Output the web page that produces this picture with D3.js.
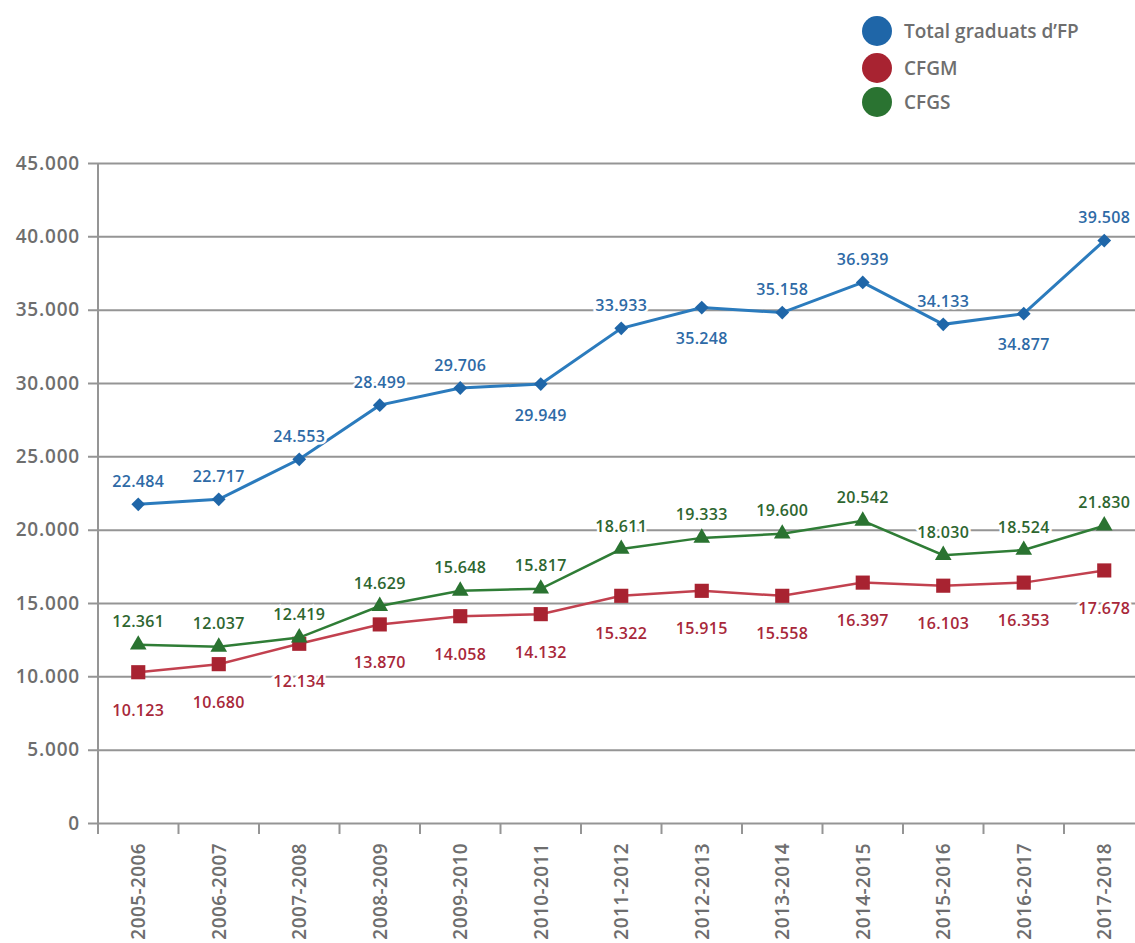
<!DOCTYPE html>
<html>
<head>
<meta charset="utf-8">
<script src="https://cdn.jsdelivr.net/npm/d3@7"></script>
<style>
  body { margin: 0; background: #fff; }
  svg text { font-family: 'Open Sans', sans-serif; font-weight: 600; }
</style>
</head>
<body>
<div id="chart"></div>
<script>
const categories = ['2005-2006', '2006-2007', '2007-2008', '2008-2009', '2009-2010', '2010-2011',
  '2011-2012', '2012-2013', '2013-2014', '2014-2015', '2015-2016', '2016-2017', '2017-2018']

const yTicks = [0, 5000, 10000, 15000, 20000, 25000, 30000, 35000, 40000, 45000]
const yTickLabels = ['0', '5.000', '10.000', '15.000', '20.000', '25.000', '30.000', '35.000', '40.000', '45.000']

// plotted positions
const totalValues = [21730, 22070, 24800, 28490, 29660, 29930, 33730, 35140, 34800, 36860, 34000, 34730, 39710]
const totalLabels = ['22.484', '22.717', '24.553', '28.499', '29.706', '29.949', '33.933', '35.248', '35.158', '36.939', '34.133', '34.877', '39.508']
const totalSide = ['up', 'up', 'up', 'up', 'up', 'down', 'up', 'down', 'up', 'up', 'up', 'down', 'up']

const cfgmValues = [10280, 10830, 12220, 13540, 14100, 14240, 15490, 15830, 15490, 16390, 16180, 16390, 17220]
const cfgmLabels = ['10.123', '10.680', '12.134', '13.870', '14.058', '14.132', '15.322', '15.915', '15.558', '16.397', '16.103', '16.353', '17.678']
const cfgmSide = categories.map(() => 'down')

const cfgsValues = [12150, 12010, 12640, 14790, 15830, 15970, 18680, 19440, 19720, 20600, 18260, 18610, 20270]
const cfgsLabels = ['12.361', '12.037', '12.419', '14.629', '15.648', '15.817', '18.611', '19.333', '19.600', '20.542', '18.030', '18.524', '21.830']
const cfgsSide = categories.map(() => 'up')

const legendNames = ['Total graduats d’FP', 'CFGM', 'CFGS']

const width = 1135
const height = 943
const axisColor = '#959595'
const textColor = '#6e6e6e'

const svg = d3.select('#chart')
  .append('svg')
    .attr('width', width)
    .attr('height', height)

const x = d3.scaleBand()
  .domain(categories)
  .range([98, 98 + 13 * 80.5])
  .padding(0)

const y = d3.scaleLinear()
  .domain([0, 45000])
  .range([823, 163])

const cx = d => x(d) + x.bandwidth() / 2

// gridlines + y labels
const yAxis = svg.append('g')
  .attr('transform', 'translate(98, 0)')
  .call(d3.axisLeft(y).tickValues(yTicks).tickSize(-(width - 98)).tickPadding(18)
    .tickFormat((d, i) => yTickLabels[i]))
yAxis.select('.domain').remove()
yAxis.selectAll('.tick line')
  .attr('x1', -10)
  .attr('stroke', axisColor)
  .attr('stroke-width', 2)
yAxis.selectAll('.tick text')
  .attr('fill', textColor)
  .attr('font-size', 19)
  .attr('letter-spacing', 0.8)
  .attr('font-family', "'Open Sans', sans-serif")

// left axis line
svg.append('line')
  .attr('x1', 98).attr('x2', 98)
  .attr('y1', 163).attr('y2', 834)
  .attr('stroke', axisColor)
  .attr('stroke-width', 2)

// x axis: ticks between categories
const bounds = categories.map(c => x(c)).slice(1)
svg.selectAll('.xtick')
  .data(bounds)
  .enter()
  .append('line')
    .attr('x1', d => d).attr('x2', d => d)
    .attr('y1', 823).attr('y2', 834)
    .attr('stroke', axisColor)
    .attr('stroke-width', 2)

svg.selectAll('.xlabel')
  .data(categories)
  .enter()
  .append('text')
    .attr('transform', d => `translate(${cx(d) + 7}, 843) rotate(-90)`)
    .attr('text-anchor', 'end')
    .attr('font-size', 19)
    .attr('letter-spacing', 0.4)
    .attr('fill', textColor)
    .text(d => d)

const series = [
  { values: totalValues, labels: totalLabels, side: totalSide, line: '#2b7bbd', mark: '#1f66a8', text: '#2e6aa6',
    symbol: d3.symbol().type(d3.symbolSquare).size(95), rotate: 45, lw: 3, up: -23, down: 31 },
  { values: cfgmValues, labels: cfgmLabels, side: cfgmSide, line: '#c2414f', mark: '#a82331', text: '#a8283a',
    symbol: d3.symbol().type(d3.symbolSquare).size(200), rotate: 0, lw: 2.5, up: -23, down: 38 },
  { values: cfgsValues, labels: cfgsLabels, side: cfgsSide, line: '#2f7d36', mark: '#2a7331', text: '#2e6630',
    symbol: d3.symbol().type(d3.symbolTriangle).size(120), rotate: 0, lw: 2.5, up: -23, down: 31 }
]

const line = d3.line()
  .x((d, i) => cx(categories[i]))
  .y(d => y(d))

series.forEach(s => {
  svg.append('path')
    .attr('d', line(s.values))
    .attr('fill', 'none')
    .attr('stroke', s.line)
    .attr('stroke-width', s.lw)

  svg.append('g')
    .selectAll('path')
    .data(s.values)
    .enter()
    .append('path')
      .attr('d', s.symbol)
      .attr('transform', (d, i) => `translate(${cx(categories[i])}, ${y(d)}) rotate(${s.rotate})`)
      .attr('fill', s.mark)
})

// data labels on top
series.forEach(s => {
  svg.append('g')
    .selectAll('text')
    .data(s.values)
    .enter()
    .append('text')
      .attr('x', (d, i) => cx(categories[i]))
      .attr('y', (d, i) => y(d) + (s.side[i] === 'up' ? s.up : s.down))
      .attr('dy', '0.35em')
      .attr('text-anchor', 'middle')
      .attr('font-size', 16)
      .attr('letter-spacing', 0.3)
      .attr('fill', s.text)
      .attr('stroke', '#fff')
      .attr('stroke-width', 5)
      .attr('paint-order', 'stroke')
      .text((d, i) => s.labels[i])
})

// legend
const legend = svg.append('g')
legendNames.forEach((name, i) => {
  const ly = [31, 68, 102][i]
  legend.append('circle')
    .attr('cx', 877)
    .attr('cy', ly)
    .attr('r', 15)
    .attr('fill', series[i].mark)
  legend.append('text')
    .attr('x', 904)
    .attr('y', ly)
    .attr('dy', '0.35em')
    .attr('font-size', 19)
    .attr('fill', textColor)
    .text(name)
})
</script>
</body>
</html>
